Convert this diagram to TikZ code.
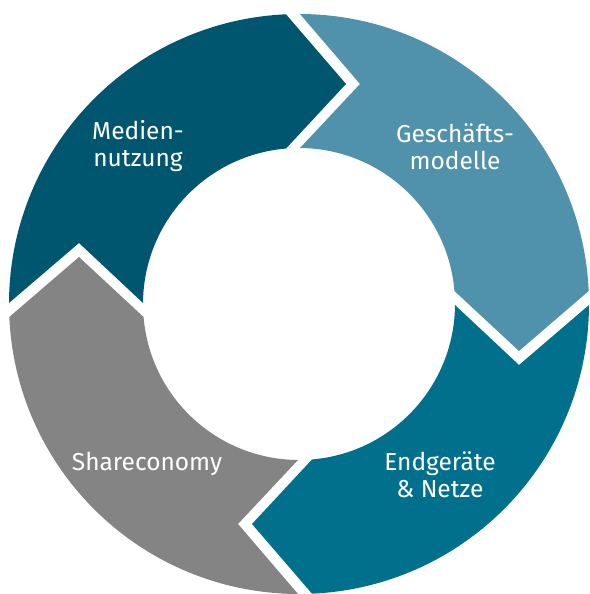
\documentclass[tikz,border=0pt]{standalone}
\usepackage{fontspec}
\setmainfont{Fira Sans}
\definecolor{cdark}{HTML}{00566F}
\definecolor{clight}{HTML}{5091AB}
\definecolor{cteal}{HTML}{00708C}
\definecolor{cgrey}{HTML}{848484}
\newcommand{\ringseg}[3]{%
  \begin{scope}[shift={(299,290)}, rotate=#2]
    \fill[#1] (89.8:290) arc[start angle=89.8, end angle=2.57, radius=290]
      -- (220,-47) -- (4.78:156) arc[start angle=4.78, end angle=89.63, radius=156]
      -- (61,220) -- cycle;
    \coordinate (#3) at (45:223);
  \end{scope}}
\begin{document}
\begin{tikzpicture}[x=1bp,y=1bp,
  lbl/.style={text=white, align=center, anchor=base, inner sep=0pt,
    font=\fontsize{24.5bp}{27bp}\selectfont}]
\useasboundingbox (0,0) rectangle (590,594);
\ringseg{clight}{0}{sg}
\ringseg{cteal}{-90}{se}
\ringseg{cgrey}{-180}{ss}
\ringseg{cdark}{90}{sm}
\node[lbl] (tm) at (138,427) {Medien-\\nutzung};
\node[lbl] (tg) at (455,424) {Geschäfts-\\modelle};
\node[lbl] (ts) at (147,123) {Shareconomy};
\node[lbl] (te) at (440,96) {Endgeräte\\\& Netze};
\end{tikzpicture}
\end{document}
